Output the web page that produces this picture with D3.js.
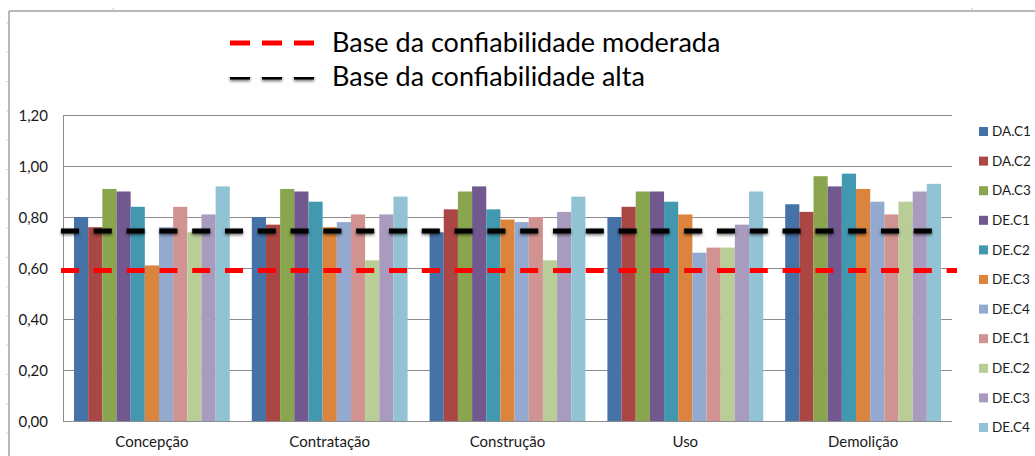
<!DOCTYPE html>
<html>
<head>
<meta charset="utf-8">
<title>Confiabilidade por etapa</title>
<style>
    body { margin: 0; background: #fff; }
    svg { display: block; font-family: Lato, "Open Sans", sans-serif; }
    .tick-label, .cat-label { font-size: 15px; fill: #1a1a1a; }
    .leg-label { font-size: 13.5px; fill: #1a1a1a; }
    .top-label { font-size: 27px; fill: #000; }
</style>
<script src="https://d3js.org/d3.v7.min.js"></script>
</head>
<body>
<svg id="chart" width="1035" height="456"></svg>
<script>
// etapas e series
const categories = ["Concepção", "Contratação", "Construção", "Uso", "Demolição"];
const seriesNames = ["DA.C1", "DA.C2", "DA.C3", "DE.C1", "DE.C2", "DE.C3", "DE.C4", "DE.C1", "DE.C2", "DE.C3", "DE.C4"];
const seriesColors = ["#4572a7", "#aa4643", "#89a54e", "#71588f", "#4198af", "#db843d",
                      "#93a9cf", "#d19392", "#b9cd96", "#a99bbd", "#92c3d5"];

// valores por etapa (uma linha por categoria, na ordem das series)
const concepcao   = [0.80, 0.76, 0.91, 0.90, 0.84, 0.61, 0.76, 0.84, 0.74, 0.81, 0.92];
const contratacao = [0.80, 0.77, 0.91, 0.90, 0.86, 0.76, 0.78, 0.81, 0.63, 0.81, 0.88];
const construcao  = [0.74, 0.83, 0.90, 0.92, 0.83, 0.79, 0.78, 0.80, 0.63, 0.82, 0.88];
const uso         = [0.80, 0.84, 0.90, 0.90, 0.86, 0.81, 0.66, 0.68, 0.68, 0.77, 0.90];
const demolicao   = [0.85, 0.82, 0.96, 0.92, 0.97, 0.91, 0.86, 0.81, 0.86, 0.90, 0.93];
const values = [concepcao, contratacao, construcao, uso, demolicao];

const tickValues = [0, 0.2, 0.4, 0.6, 0.8, 1.0, 1.2];
const tickLabels = ["0,00", "0,20", "0,40", "0,60", "0,80", "1,00", "1,20"];

// linhas de referencia
const thresholdNames = ["Base da confiabilidade moderada", "Base da confiabilidade alta"];
const thresholdValues = [0.59, 0.745];
const thresholdColors = ["#ff0000", "#000000"];

const svg = d3.select("#chart");

const plot = { left: 63, right: 952, top: 115, bottom: 421 };

const y = d3.scaleLinear().domain([0, 1.2]).range([plot.bottom, plot.top]);
const x0 = d3.scaleBand().domain(categories).range([plot.left, plot.right]);
const x1 = d3.scaleBand().domain(d3.range(seriesNames.length))
    .range([11, x0.bandwidth() - 11]);

// sombra para a linha preta (regiao em coordenadas absolutas, a linha nao tem altura)
const defs = svg.append("defs");
defs.append("filter").attr("id", "shadow")
    .attr("filterUnits", "userSpaceOnUse")
    .attr("x", 0).attr("y", 0).attr("width", 1035).attr("height", 456)
    .append("feDropShadow")
    .attr("dx", 0).attr("dy", 1.5).attr("stdDeviation", 1.5)
    .attr("flood-color", "#000").attr("flood-opacity", 0.6);

// moldura
svg.append("line").attr("x1", 9).attr("x2", 1035).attr("y1", 11).attr("y2", 11)
    .attr("stroke", "#a0a0a0").attr("stroke-width", 1.5);
svg.append("line").attr("x1", 9).attr("x2", 9).attr("y1", 11).attr("y2", 456)
    .attr("stroke", "#a0a0a0").attr("stroke-width", 1.5);
svg.append("g").selectAll("line").data(d3.range(15)).join("line")
    .attr("x1", 6.5).attr("x2", 9).attr("y1", d => 23 + d * 29.3).attr("y2", d => 23 + d * 29.3)
    .attr("stroke", "#c8c8c8");
svg.append("g").selectAll("line").data([113, 972]).join("line")
    .attr("x1", d => d).attr("x2", d => d).attr("y1", 8).attr("y2", 11)
    .attr("stroke", "#c8c8c8");

// grade
svg.append("g").selectAll("line").data(tickValues).join("line")
    .attr("x1", plot.left).attr("x2", plot.right)
    .attr("y1", d => Math.round(y(d)) + 0.5).attr("y2", d => Math.round(y(d)) + 0.5)
    .attr("stroke", "#8c8c8c").attr("stroke-width", 1);

svg.append("line")
    .attr("x1", plot.left + 0.5).attr("x2", plot.left + 0.5)
    .attr("y1", plot.top).attr("y2", plot.bottom)
    .attr("stroke", "#8c8c8c");

svg.append("g").selectAll("text").data(tickValues).join("text")
    .attr("class", "tick-label")
    .attr("x", 48).attr("y", d => y(d) + 1)
    .attr("dy", "0.35em").attr("text-anchor", "end")
    .text((d, i) => tickLabels[i]);

// barras
const groups = svg.append("g").selectAll("g").data(values).join("g")
    .attr("transform", (d, i) => `translate(${x0(categories[i])},0)`);

groups.selectAll("rect").data(d => d).join("rect")
    .attr("x", (d, i) => x1(i))
    .attr("width", x1.bandwidth())
    .attr("y", d => y(d))
    .attr("height", d => y(0) - y(d))
    .attr("fill", (d, i) => seriesColors[i]);

svg.append("g").selectAll("text").data(categories).join("text")
    .attr("class", "cat-label")
    .attr("x", d => x0(d) + x0.bandwidth() / 2)
    .attr("y", 442).attr("dy", "0.35em")
    .attr("text-anchor", "middle")
    .text(d => d);

// linhas tracejadas
const lineEnds = [957, 936];
svg.append("g").selectAll("line").data(thresholdValues).join("line")
    .attr("x1", 61).attr("x2", (d, i) => lineEnds[i])
    .attr("y1", d => y(d)).attr("y2", d => y(d))
    .attr("stroke", (d, i) => thresholdColors[i])
    .attr("stroke-width", 5)
    .attr("stroke-dasharray", "18,14.8")
    .attr("filter", (d, i) => i === 1 ? "url(#shadow)" : null);

// legenda superior
const topLeg = svg.append("g").selectAll("g").data(thresholdNames).join("g")
    .attr("transform", (d, i) => `translate(0,${43 + i * 34})`);
topLeg.append("line")
    .attr("x1", 230).attr("x2", 314).attr("y1", 0).attr("y2", 0)
    .attr("stroke", (d, i) => thresholdColors[i])
    .attr("stroke-width", 5)
    .attr("stroke-dasharray", "20,12")
    .attr("filter", (d, i) => i === 1 ? "url(#shadow)" : null);
topLeg.append("text")
    .attr("class", "top-label")
    .attr("x", 332).attr("y", 0).attr("dy", "0.35em")
    .text(d => d);

// legenda lateral
const leg = svg.append("g").selectAll("g").data(seriesNames).join("g")
    .attr("transform", (d, i) => `translate(979,${131.5 + i * 29.6})`);
leg.append("rect")
    .attr("x", 0).attr("y", -4.5).attr("width", 9).attr("height", 9)
    .attr("fill", (d, i) => seriesColors[i]);
leg.append("text")
    .attr("class", "leg-label")
    .attr("x", 13).attr("y", 0).attr("dy", "0.35em")
    .text(d => d);
</script>
</body>
</html>
